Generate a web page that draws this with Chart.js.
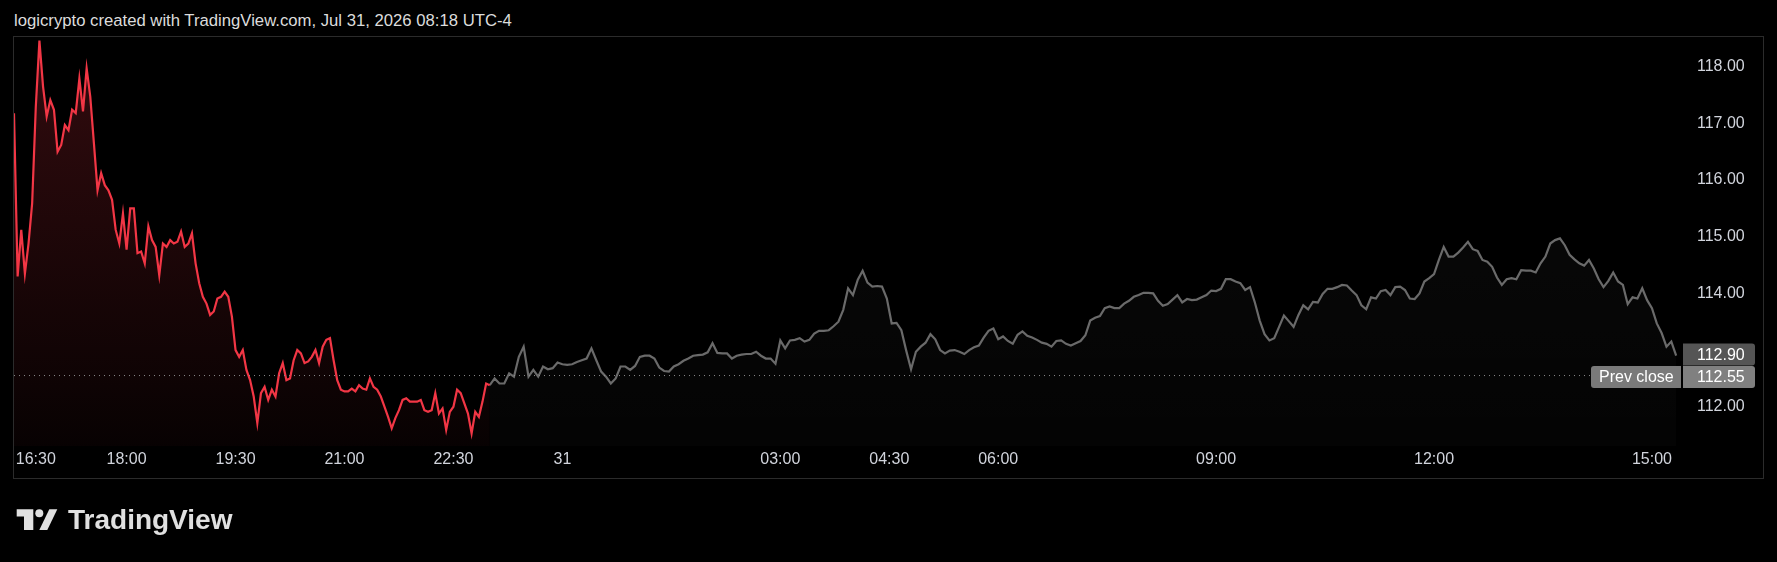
<!DOCTYPE html>
<html>
<head>
<meta charset="utf-8">
<script src="https://cdn.jsdelivr.net/npm/chart.js@4.4.1/dist/chart.umd.min.js"></script>
<style>
  html, body { margin: 0; padding: 0; background: #000; }
  body { width: 1777px; height: 562px; position: relative; overflow: hidden; font-family: "Liberation Sans", Arial, sans-serif; }
  #wrap { position: absolute; left: 0; top: 0; width: 1777px; height: 562px; }
  #frame { position: absolute; left: 13px; top: 36px; width: 1749px; height: 441px; border: 1px solid #2b2b2b; pointer-events: none; }
  #title { position: absolute; left: 14px; top: 11px; font-size: 16.7px; line-height: 20px; color: #dcdcdc; white-space: nowrap; }
  #logo { position: absolute; left: 16px; top: 508px; }
  #logoText { position: absolute; left: 68px; top: 504px; font-size: 28px; line-height: 32px; font-weight: 700; color: #e0e0e0; }
</style>
</head>
<body>
<div id="title">logicrypto created with TradingView.com, Jul 31, 2026 08:18 UTC-4</div>
<div id="wrap"><canvas id="myChart" width="1777" height="562"></canvas></div>
<div id="frame"></div>
<svg id="logo" width="44" height="24" viewBox="0 0 44 24">
  <path d="M0.7 1.3 H17.3 V22 H8 V8.6 H0.7 Z" fill="#e0e0e0"/>
  <circle cx="23.3" cy="5.3" r="4" fill="#e0e0e0"/>
  <path d="M33.3 1.3 H41.3 L31.3 22 H23.3 Z" fill="#e0e0e0"/>
</svg>
<div id="logoText">TradingView</div>
<script>
// time in hours from 00:00 of the 31st (negative = evening of the 30th)
// post-market session (red), one value every 3 minutes from 16:27
var redStart = -7.55;
var redStepMin = 3;
var redPrices = [
  117.18, 114.30, 115.12, 114.35, 114.88, 115.59, 117.29, 118.46, 117.65, 117.12,
  117.41, 117.24, 116.50, 116.62, 116.97, 116.88, 117.24, 117.18, 117.79, 117.21,
  117.97, 117.47, 116.65, 115.82, 116.12, 115.91, 115.82, 115.65, 115.12, 114.88,
  115.41, 114.77, 115.50, 115.50, 114.71, 114.74, 114.53, 115.18, 114.94, 114.82,
  114.32, 114.88, 114.82, 114.94, 114.88, 114.91, 115.09, 114.82, 114.88, 115.06,
  114.53, 114.18, 113.94, 113.82, 113.62, 113.68, 113.91, 113.94, 114.03, 113.94,
  113.59, 113.00, 112.88, 113.00, 112.65, 112.47, 112.18, 111.71, 112.24, 112.35,
  112.12, 112.30, 112.18, 112.59, 112.77, 112.47, 112.50, 112.82, 113.00, 112.94,
  112.77, 112.80, 112.88, 113.00, 112.77, 113.06, 113.18, 113.21, 112.82, 112.47,
  112.30, 112.27, 112.27, 112.32, 112.27, 112.38, 112.32, 112.30, 112.50, 112.35,
  112.30, 112.18, 112.00, 111.82, 111.62, 111.80, 111.94, 112.12, 112.15, 112.09,
  112.09, 112.09, 112.12, 111.94, 111.91, 111.94, 112.24, 111.88, 111.97, 111.59,
  111.91, 112.00, 112.30, 112.24, 112.06, 111.88, 111.53, 111.91, 111.82, 112.09,
  112.41, 112.38
];

// overnight + pre-market (grey), one value every 4 minutes from 23:00
var greyStart = -1.0;
var greyStepMin = 4;
var greyPrices = [
  112.38, 112.50, 112.41, 112.41, 112.59, 112.53, 112.88, 113.06, 112.53, 112.65,
  112.53, 112.71, 112.66, 112.68, 112.78, 112.75, 112.74, 112.75, 112.79, 112.82,
  112.85, 113.03, 112.82, 112.62, 112.53, 112.41, 112.50, 112.71, 112.71, 112.65,
  112.72, 112.88, 112.90, 112.90, 112.85, 112.69, 112.63, 112.62, 112.71, 112.75,
  112.81, 112.85, 112.90, 112.91, 112.92, 112.96, 113.12, 112.95, 112.94, 112.94,
  112.85, 112.90, 112.92, 112.93, 112.93, 112.97, 112.90, 112.85, 112.85, 112.76,
  113.17, 113.03, 113.17, 113.18, 113.21, 113.15, 113.18, 113.29, 113.34, 113.34,
  113.35, 113.42, 113.50, 113.71, 114.09, 113.97, 114.24, 114.40, 114.19, 114.12,
  114.13, 114.12, 113.91, 113.47, 113.48, 113.35, 112.99, 112.66, 112.97, 113.06,
  113.13, 113.28, 113.19, 113.00, 112.94, 112.99, 113.00, 112.97, 112.93, 113.00,
  113.05, 113.08, 113.22, 113.34, 113.38, 113.19, 113.24, 113.16, 113.11, 113.27,
  113.33, 113.25, 113.22, 113.18, 113.13, 113.11, 113.06, 113.16, 113.17, 113.11,
  113.08, 113.12, 113.16, 113.26, 113.52, 113.57, 113.60, 113.74, 113.77, 113.74,
  113.74, 113.82, 113.87, 113.94, 113.97, 114.01, 114.01, 114.00, 113.87, 113.78,
  113.81, 113.89, 113.97, 113.84, 113.90, 113.88, 113.89, 113.93, 113.97, 114.05,
  114.04, 114.08, 114.25, 114.25, 114.21, 114.18, 114.06, 114.11, 113.84, 113.52,
  113.28, 113.17, 113.21, 113.41, 113.61, 113.51, 113.41, 113.62, 113.79, 113.72,
  113.85, 113.84, 113.99, 114.08, 114.08, 114.11, 114.15, 114.14, 114.05, 113.97,
  113.79, 113.72, 113.93, 113.91, 114.04, 114.06, 113.97, 114.11, 114.12, 114.06,
  113.91, 113.90, 114.00, 114.21, 114.27, 114.34, 114.59, 114.82, 114.65, 114.65,
  114.72, 114.81, 114.91, 114.78, 114.75, 114.59, 114.56, 114.47, 114.28, 114.15,
  114.25, 114.27, 114.25, 114.41, 114.40, 114.40, 114.37, 114.53, 114.65, 114.88,
  114.94, 114.97, 114.85, 114.68, 114.60, 114.53, 114.49, 114.59, 114.44, 114.25,
  114.11, 114.22, 114.37, 114.21, 114.15, 113.81, 113.93, 113.91, 114.09, 113.88,
  113.74, 113.47, 113.30, 113.06, 113.15, 112.90
];

var lastPrice = 112.90;
var prevClose = 112.55;

// axis ticks (first label sits a bit inside the edge, like TradingView does;
// 113.00 is hidden behind the price tags in the original)
var timeTicks = [-7.25, -6, -4.5, -3, -1.5, 0, 3, 4.5, 6, 9, 12, 15];
var timeLabels = ['16:30', '18:00', '19:30', '21:00', '22:30', '31', '03:00', '04:30', '06:00', '09:00', '12:00', '15:00'];
var priceTicks = [112, 114, 115, 116, 117, 118];

var xMin = -7.55, xMax = 15.40;
var yMin = 111.307, yMax = 118.524;

var FONT = '"Liberation Sans", Arial, sans-serif';
var RED = '#f23645';
var GREY = '#6a6a6a';

var redData = redPrices.map(function(v, i) {
    return { x: redStart + i * redStepMin / 60, y: v };
});
var greyData = greyPrices.map(function(v, i) {
    return { x: greyStart + i * greyStepMin / 60, y: v };
});

function areaFill(r, g, b, top, bottom) {
    return function(context) {
        var chart = context.chart;
        var a = chart.chartArea;
        if (!a) return 'rgba(' + r + ',' + g + ',' + b + ',' + top + ')';
        var grad = chart.ctx.createLinearGradient(0, a.top, 0, a.bottom);
        grad.addColorStop(0, 'rgba(' + r + ',' + g + ',' + b + ',' + top + ')');
        grad.addColorStop(1, 'rgba(' + r + ',' + g + ',' + b + ',' + bottom + ')');
        return grad;
    };
}

function roundBox(ctx, x, y, w, h, r) {
    ctx.beginPath();
    ctx.moveTo(x + r[0], y);
    ctx.lineTo(x + w - r[1], y);
    ctx.quadraticCurveTo(x + w, y, x + w, y + r[1]);
    ctx.lineTo(x + w, y + h - r[2]);
    ctx.quadraticCurveTo(x + w, y + h, x + w - r[2], y + h);
    ctx.lineTo(x + r[3], y + h);
    ctx.quadraticCurveTo(x, y + h, x, y + h - r[3]);
    ctx.lineTo(x, y + r[0]);
    ctx.quadraticCurveTo(x, y, x + r[0], y);
    ctx.closePath();
    ctx.fill();
}

// price labels on the right scale
var tagPlugin = {
    id: 'tags',
    afterDraw: function(chart) {
        var ctx = chart.ctx;
        var ys = chart.scales.y;
        var area = chart.chartArea;
        var h = 22;
        var yLast = ys.getPixelForValue(lastPrice);
        var yPrev = ys.getPixelForValue(prevClose);
        var gap = h + 0.5 - (yPrev - yLast);
        if (gap > 0) { yLast -= gap / 2; yPrev += gap / 2; }
        var x0 = area.right + 2, w = 72;
        ctx.save();
        ctx.font = '16px ' + FONT;
        ctx.textBaseline = 'middle';
        ctx.fillStyle = '#555555';
        roundBox(ctx, x0, yLast - h / 2, w, h, [0, 3, 3, 0]);
        ctx.fillStyle = '#808080';
        roundBox(ctx, x0, yPrev - h / 2, w, h, [0, 3, 3, 0]);
        ctx.fillStyle = '#7a7a7a';
        roundBox(ctx, area.right - 90, yPrev - h / 2, 90, h, [3, 0, 0, 3]);
        ctx.fillStyle = '#ffffff';
        ctx.textAlign = 'left';
        ctx.fillText(lastPrice.toFixed(2), x0 + 14, yLast + 1);
        ctx.fillText(prevClose.toFixed(2), x0 + 14, yPrev + 1);
        ctx.fillText('Prev close', area.right - 82, yPrev + 1);
        ctx.restore();
    }
};

var ctx = document.getElementById('myChart').getContext('2d');
var myChart = new Chart(ctx, {
    type: 'line',
    data: {
        datasets: [{
            label: 'Prev close',
            data: [{ x: xMin, y: prevClose }, { x: xMax, y: prevClose }],
            borderColor: '#8a8a8a',
            borderWidth: 1,
            borderDash: [1, 4],
            pointRadius: 0,
            fill: false,
            order: -1
        }, {
            label: 'Post-market',
            data: redData,
            borderColor: RED,
            borderWidth: 2.2,
            pointRadius: 0,
            tension: 0,
            fill: 'start',
            backgroundColor: areaFill(242, 54, 69, 0.21, 0.03)
        }, {
            label: 'Overnight',
            data: greyData,
            borderColor: GREY,
            borderWidth: 2.2,
            pointRadius: 0,
            tension: 0,
            fill: 'start',
            backgroundColor: areaFill(255, 255, 255, 0.045, 0.015)
        }]
    },
    options: {
        responsive: false,
        animation: false,
        parsing: false,
        layout: { padding: { left: 14, top: 37, right: 14, bottom: 84 } },
        plugins: {
            legend: { display: false },
            tooltip: { enabled: false }
        },
        scales: {
            x: {
                type: 'linear',
                min: xMin,
                max: xMax,
                afterBuildTicks: function(scale) {
                    scale.ticks = timeTicks.map(function(v) { return { value: v }; });
                },
                afterFit: function(scale) { scale.height = 32; },
                grid: { display: false, drawTicks: false },
                border: { display: false },
                ticks: {
                    autoSkip: false,
                    maxRotation: 0,
                    padding: 4,
                    color: '#d1d4dc',
                    font: { family: FONT, size: 16 },
                    callback: function(v, i) { return timeLabels[i]; }
                }
            },
            y: {
                type: 'linear',
                position: 'right',
                min: yMin,
                max: yMax,
                afterBuildTicks: function(scale) {
                    scale.ticks = priceTicks.map(function(v) { return { value: v }; });
                },
                afterFit: function(scale) { scale.width = 82; },
                grid: { display: false, drawTicks: false },
                border: { display: false },
                ticks: {
                    padding: 16,
                    color: '#d1d4dc',
                    font: { family: FONT, size: 16 },
                    callback: function(v) { return Number(v).toFixed(2); }
                }
            }
        }
    },
    plugins: [tagPlugin]
});
</script>
</body>
</html>
